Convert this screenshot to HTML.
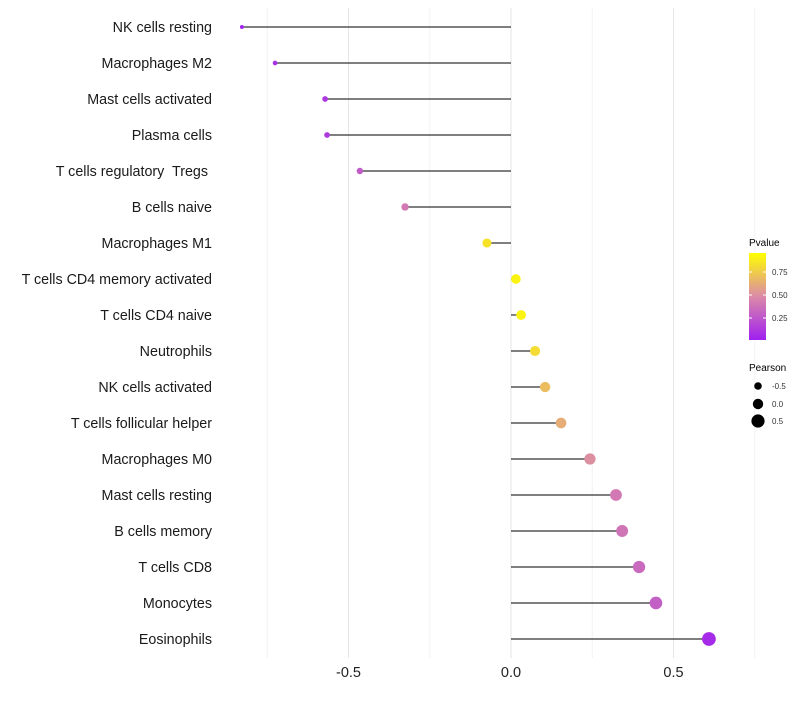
<!DOCTYPE html>
<html><head><meta charset="utf-8"><style>
body{margin:0;background:#fff;font-family:"Liberation Sans",sans-serif}
text{white-space:pre}
</style></head><body>
<svg id="chart" width="800" height="700" xmlns="http://www.w3.org/2000/svg">
<defs><linearGradient id="pg" x1="0" y1="1" x2="0" y2="0">
<stop offset="0" stop-color="#a020f0"/><stop offset="0.5" stop-color="#db8aa8"/><stop offset="1" stop-color="#ffff00"/></linearGradient></defs>
<g id="grid"></g><g id="marks"></g><g id="labels"></g>
<g>
<text x="749" y="246" font-size="10" fill="#000">Pvalue</text>
<rect x="749" y="253" width="17" height="87" fill="url(#pg)"/>
<line x1="749" x2="752" y1="272" y2="272" stroke="#fff"/><line x1="763" x2="766" y1="272" y2="272" stroke="#fff"/>
<line x1="749" x2="752" y1="295" y2="295" stroke="#fff"/><line x1="763" x2="766" y1="295" y2="295" stroke="#fff"/>
<line x1="749" x2="752" y1="318" y2="318" stroke="#fff"/><line x1="763" x2="766" y1="318" y2="318" stroke="#fff"/>
<text x="772" y="275" font-size="8" fill="#333">0.75</text>
<text x="772" y="298" font-size="8" fill="#333">0.50</text>
<text x="772" y="321" font-size="8" fill="#333">0.25</text>
</g>
<g>
<text x="749" y="371" font-size="10" fill="#000">Pearson</text>
<circle cx="758" cy="386" r="3.8" fill="#000"/><text x="772" y="389" font-size="8" fill="#333">-0.5</text>
<circle cx="758" cy="404" r="5.2" fill="#000"/><text x="772" y="407" font-size="8" fill="#333">0.0</text>
<circle cx="758" cy="421" r="6.6" fill="#000"/><text x="772" y="424" font-size="8" fill="#333">0.5</text>
</g>
</svg>
<script>
const categories=["NK cells resting","Macrophages M2","Mast cells activated","Plasma cells","T cells regulatory  Tregs ","B cells naive","Macrophages M1","T cells CD4 memory activated","T cells CD4 naive","Neutrophils","NK cells activated","T cells follicular helper","Macrophages M0","Mast cells resting","B cells memory","T cells CD8","Monocytes","Eosinophils"];
const pearson=[-0.828,-0.726,-0.572,-0.566,-0.465,-0.326,-0.074,0.015,0.031,0.074,0.105,0.154,0.243,0.323,0.342,0.394,0.446,0.609];
const pvalues=[0.03,0.08,0.12,0.12,0.28,0.42,0.88,0.95,0.95,0.85,0.72,0.65,0.52,0.42,0.4,0.35,0.3,0.05];
const xTicks=[-0.5,0,0.5];
const xTickLabels=["-0.5","0.0","0.5"];
const xMinor=[-0.75,-0.25,0.25,0.75];
const NS="http://www.w3.org/2000/svg";
const x=v=>511+v*325;
const y=i=>27+i*36;
const r=v=>4.8+3.4*v;
function col(p){
 const a=[160,32,240],m=[219,138,168],b=[255,255,0];
 let c0,c1,t;
 if(p<0.5){c0=a;c1=m;t=p/0.5}else{c0=m;c1=b;t=(p-0.5)/0.5}
 return "rgb("+c0.map((v,k)=>Math.round(v+(c1[k]-v)*t)).join(",")+")";
}
function mk(tag,at,parent){const e=document.createElementNS(NS,tag);for(const k in at)e.setAttribute(k,at[k]);parent.appendChild(e);return e;}
const grid=document.getElementById("grid"),marks=document.getElementById("marks"),labels=document.getElementById("labels");
xMinor.forEach(v=>{const l=mk("line",{x1:x(v),x2:x(v),y1:8,y2:658,stroke:"#f2f2f2","stroke-width":1},grid);

});
xTicks.forEach((v,i)=>{const l=mk("line",{x1:x(v),x2:x(v),y1:8,y2:658,stroke:"#e6e6e6","stroke-width":1},grid);


const t=mk("text",{x:x(v),y:677,"font-size":14.5,"text-anchor":"middle",fill:"#222"},labels);t.textContent=xTickLabels[i];

});
categories.forEach((c,i)=>{
 const yy=y(i);
 const g=mk("line",{x1:x(0),x2:x(pearson[i]),y1:yy,y2:yy,stroke:"#333","stroke-width":1.2},marks);
 
 
 const d=mk("circle",{cx:x(pearson[i]),cy:yy,r:r(pearson[i]),fill:col(pvalues[i])},marks);
 
 
 const t=mk("text",{x:212,y:yy+5,"font-size":14.3,"text-anchor":"end",fill:"#1a1a1a"},labels);t.textContent=c;
 
 
});
</script>
</body></html>
